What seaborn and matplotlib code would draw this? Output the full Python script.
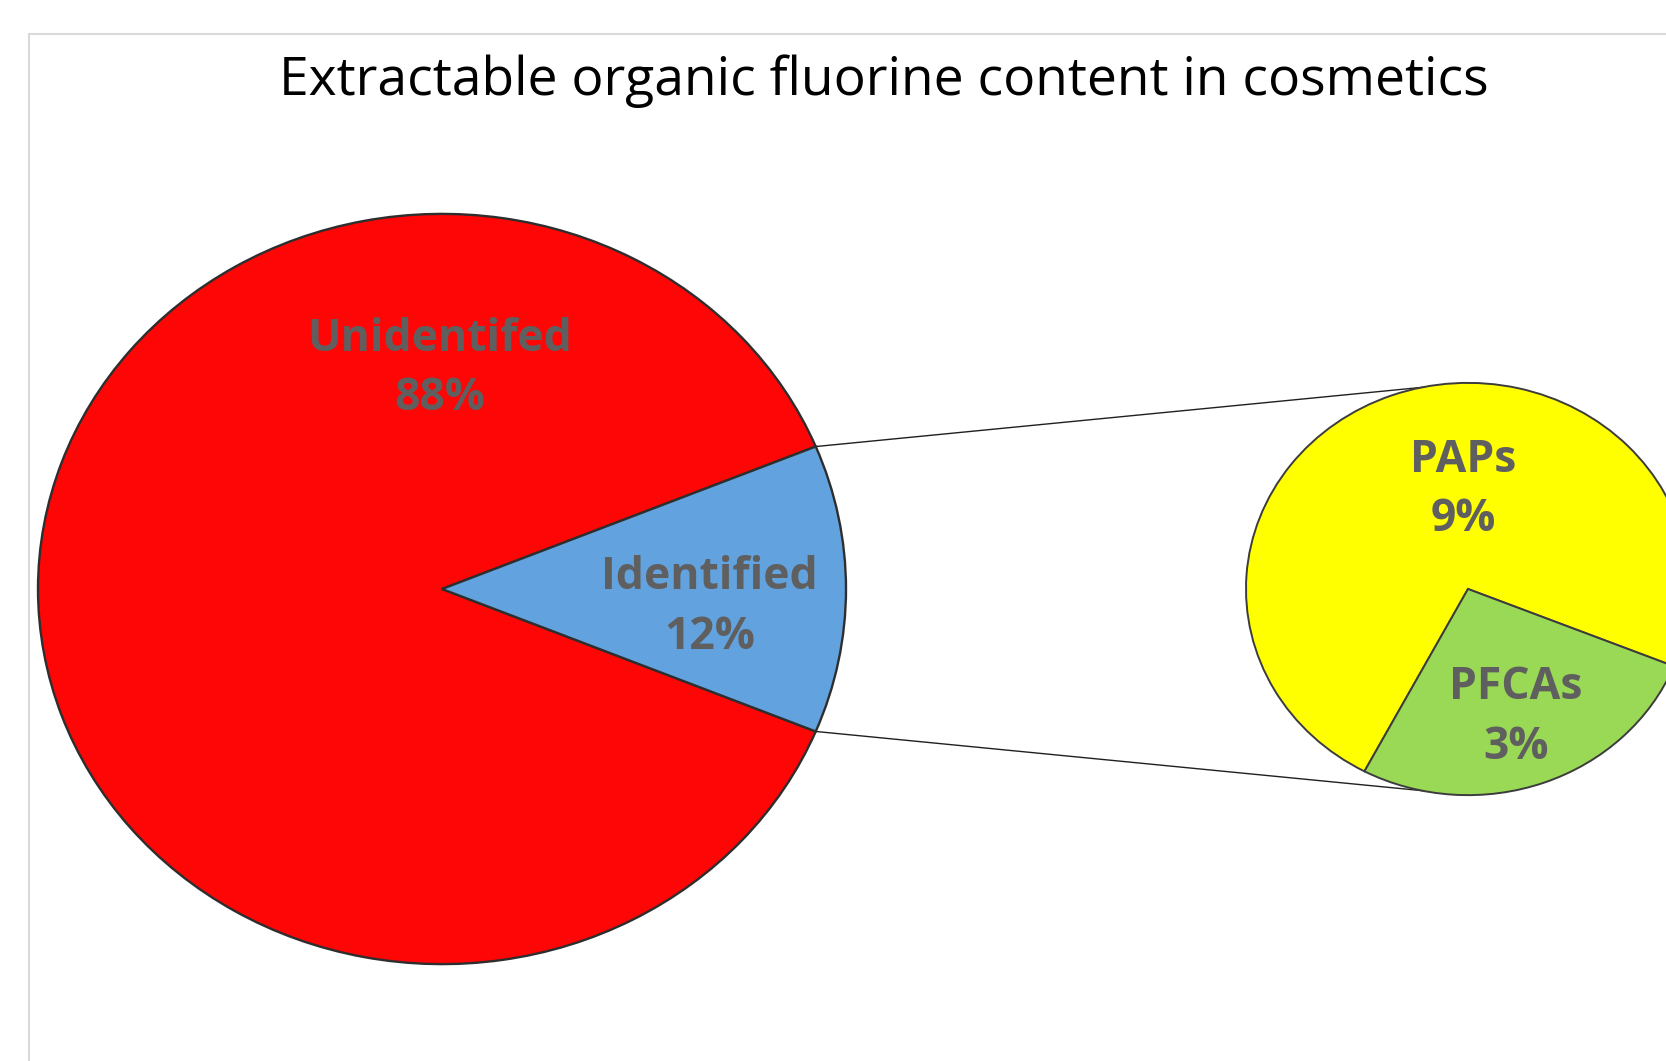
import matplotlib.pyplot as plt
import seaborn as sns
import numpy as np
from matplotlib.patches import Rectangle

# chart values
main_labels = ["Unidentifed", "Identified"]
main_values = [87.6, 12.4]
main_colors = ["#fe0506", "#62a3df"]

split_labels = ["PAPs", "PFCAs"]
split_values = [9.1, 3.3]
split_colors = ["#ffff00", "#99d955"]

title = "Extractable organic fluorine content in cosmetics"

sns.set_theme(style="white")
plt.rcParams['font.family'] = ['Open Sans', 'DejaVu Sans']

W, H = 1666, 1061
squash = 1.077   # the pies come out a bit wider than tall
text_grey = "#5f5f5f"

fig = plt.figure(figsize=(W / 100, H / 100), dpi=100)
ax = fig.add_axes([0, 0, 1, 1])

cy = (H - 589) * squash
big_c, big_r = (442, cy), 404
small_c, small_r = (1468, cy), 222

# main pie, identified slice centred on the right
half = 180 * main_values[1] / sum(main_values)
ax.pie(main_values, colors=main_colors, center=big_c, radius=big_r,
       startangle=half, counterclock=True,
       wedgeprops=dict(edgecolor="#2e2e2e", linewidth=1.7))

# second pie that breaks up the identified part
ax.pie(split_values, colors=split_colors, center=small_c, radius=small_r,
       startangle=-22, counterclock=True,
       wedgeprops=dict(edgecolor="#3c3c3c", linewidth=1.4))

# connector lines, from the slice edges to top/bottom of the small pie
for sgn in (1, -1):
    x0 = big_c[0] + big_r * np.cos(np.radians(half))
    y0 = big_c[1] + sgn * big_r * np.sin(np.radians(half))
    ax.plot([x0, small_c[0]], [y0, small_c[1] + sgn * small_r],
            color="#202020", lw=1.0, zorder=0)

ax.set_aspect("auto")
ax.set_xlim(0, W)
ax.set_ylim(0, H * squash)
ax.axis("off")

total = sum(main_values)
lab_kw = dict(ha="center", va="center", fontsize=32, fontweight="bold",
              color=text_grey, linespacing=1.42)
ax.text(big_c[0] - 0.005 * big_r, big_c[1] + 0.586 * big_r,
        f"{main_labels[0]}\n{main_values[0] / total:.0%}", **lab_kw)
ax.text(big_c[0] + 0.663 * big_r, big_c[1] - 0.049 * big_r,
        f"{main_labels[1]}\n{main_values[1] / total:.0%}", **lab_kw)
ax.text(small_c[0] - 0.02 * small_r, small_c[1] + 0.479 * small_r,
        f"{split_labels[0]}\n{split_values[0] / total:.0%}", **lab_kw)
ax.text(small_c[0] + 0.216 * small_r, small_c[1] - 0.623 * small_r,
        f"{split_labels[1]}\n{split_values[1] / total:.0%}", **lab_kw)

ax.text(884, (H - 81) * squash, title, ha="center", va="center",
        fontsize=38.4, color="black")

# light chart-area frame, runs off the right and bottom edge
ax.add_patch(Rectangle((29, -20), 2000, (H - 34) * squash + 20, fill=False,
                       edgecolor="#d9d9d9", lw=1.5, clip_on=False))

fig.savefig("out.png", dpi=100, facecolor="white")
